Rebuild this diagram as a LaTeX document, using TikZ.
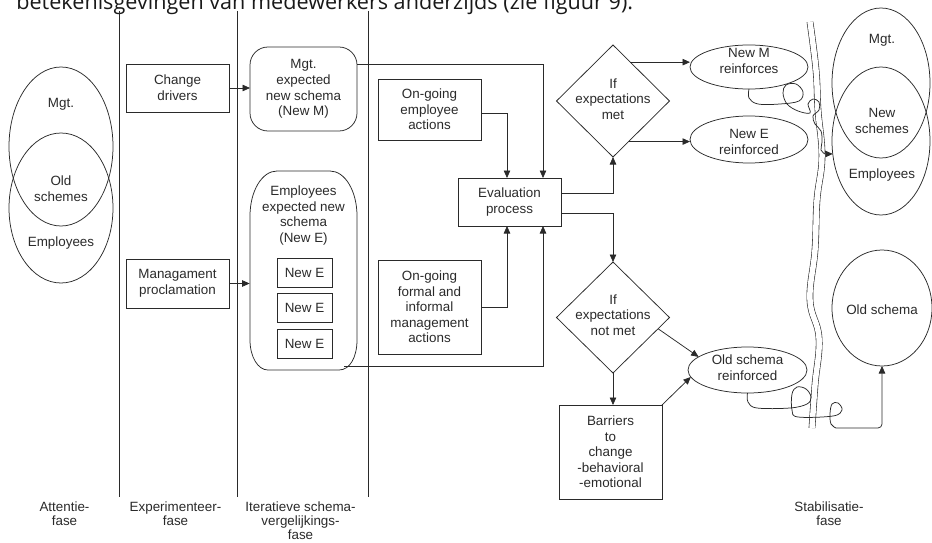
\documentclass[tikz,border=0pt]{standalone}
\usepackage{fontspec}
\setmainfont{Liberation Sans}
\newfontfamily\headfont{Open Sans}
\usetikzlibrary{shapes.geometric,arrows.meta}
\definecolor{ink}{HTML}{2A2A2A}
\newcommand\boxfont{\fontsize{13.4pt}{15.6pt}\selectfont}
\newcommand\phasefont{\fontsize{13.4pt}{14pt}\selectfont}
\begin{document}
\begin{tikzpicture}[x=1pt,y=-1pt,
  line width=0.75pt, draw=ink,
  shp/.style={draw=ink, line width=0.75pt, inner sep=0pt, outer sep=0pt},
  box/.style={shp, rectangle, align=center, text=ink, font=\boxfont},
  txt/.style={inner sep=0pt, align=center, text=ink, font=\boxfont},
  phase/.style={inner sep=0pt, align=center, text=ink, font=\phasefont, anchor=base},
  arr/.style={draw=ink, line width=0.75pt, -{Triangle[length=7.5pt,width=6.5pt]}},
  wire/.style={draw=ink, line width=0.75pt}
]
\clip (0,0) rectangle (932,543);

% running text line above the figure
\node[anchor=base west, inner sep=0pt, text=black!90,
      font=\headfont\fontsize{21.6pt}{25pt}\selectfont] (intro) at (16,10)
  {betekenisgevingen van medewerkers anderzijds (zie figuur 9).};

% phase separators
\draw[wire] (119,11) -- (119,497);
\draw[wire] (237,11) -- (237,497);
\draw[wire] (368,11) -- (368,497);

% phase labels (anchored on the baseline of their last line)
\node[phase] (f1) at (64.5,525) {Attentie-\\fase};
\node[phase] (f2) at (175.5,525) {Experimenteer-\\fase};
\node[phase] (f3) at (300.5,539) {Iteratieve schema-\\vergelijkings-\\fase};
\node[phase] (f4) at (829,525) {Stabilisatie-\\fase};

% starting situation: overlapping schemes
\node[shp, ellipse, minimum width=104pt, minimum height=159pt] (lmgt) at (61,146.5) {};
\node[shp, ellipse, minimum width=104pt, minimum height=150pt] (lemp) at (61,208) {};
\node[txt] (lmgt-t) at (61,104) {Mgt.};
\node[txt] (lold-t) at (61,188.5) {Old\\schemes};
\node[txt] (lemp-t) at (61,243.5) {Employees};

% experimenting phase
\node[box, minimum width=103pt, minimum height=48pt] (cd) at (177.5,88) {Change\\drivers};
\node[box, minimum width=103pt, minimum height=49pt] (mp) at (177.5,283.5) {Managament\\proclamation};

% expected schemas
\node[box, rounded corners=18pt, minimum width=107pt, minimum height=84pt] (mgt) at (303.5,89)
  {Mgt.\\expected\\new schema\\(New M)};
\node[inner sep=0pt, minimum width=107pt, minimum height=199pt] (emp) at (303.5,270.5) {};
\draw[wire] (250,216) .. controls (250,191) and (262,171) .. (277,171)
  -- (330,171) .. controls (345,171) and (357,191) .. (357,216)
  -- (357,340) .. controls (357,357) and (350,370) .. (339,370)
  -- (268,370) .. controls (258,370) and (250,357) .. (250,340) -- cycle;
\node[txt] (emp-t) at (303.5,215.5) {Employees\\expected new\\schema\\(New E)};
\node[box, minimum width=55pt, minimum height=29pt] (ne1) at (304.5,272.5) {New E};
\node[box, minimum width=55pt, minimum height=29pt] (ne2) at (304.5,307.5) {New E};
\node[box, minimum width=55pt, minimum height=29pt] (ne3) at (304.5,343.5) {New E};
\coordinate (empout) at (344,366);

% comparison phase
\node[box, minimum width=103pt, minimum height=61pt] (oge) at (429.5,109.5) {On-going\\employee\\actions};
\node[box, minimum width=103pt, minimum height=48pt] (ev) at (509.5,202) {Evaluation\\process};
\node[box, minimum width=103pt, minimum height=94pt] (ogm) at (429.5,307)
  {On-going\\formal and\\informal\\management\\actions};

\node[shp, diamond, minimum width=113pt, minimum height=112pt] (d1) at (613,101) {};
\node[txt] (d1-t) at (613,99) {If\\expectations\\met};
\node[shp, diamond, minimum width=113pt, minimum height=111pt] (d2) at (613,317.5) {};
\node[txt] (d2-t) at (613,315) {If\\expectations\\not met};

\node[shp, ellipse, minimum width=118pt, minimum height=44pt] (nm) at (749,67) {};
\node[txt] (nm-t) at (749,61) {New M\\reinforces};
\node[shp, ellipse, minimum width=118pt, minimum height=47pt] (nE) at (749,139.5) {};
\node[txt] (nE-t) at (749,142) {New E\\reinforced};
\node[shp, ellipse, minimum width=119pt, minimum height=46pt] (osr) at (747.5,370) {};
\node[txt] (osr-t) at (747.5,367.5) {Old schema\\reinforced};

\node[box, minimum width=103pt, minimum height=94pt] (bar) at (610.5,452)
  {Barriers\\to\\change\\-behavioral\\-emotional};

% stabilisation phase
\node[shp, ellipse, minimum width=98pt, minimum height=150pt] (rmgt) at (881,83) {};
\node[shp, ellipse, minimum width=98pt, minimum height=148pt] (remp) at (881,141) {};
\node[txt] (rmgt-t) at (882,40) {Mgt.};
\node[txt] (rnew-t) at (882,121) {New\\schemes};
\node[txt] (remp-t) at (882,175.5) {Employees};
\node[shp, ellipse, minimum width=100pt, minimum height=116pt] (osch) at (882,308) {};
\node[txt] (osch-t) at (882,310) {Old schema};

% the river between comparison and stabilisation
\draw[draw=ink, line width=0.6pt, double=white, double distance=5.5pt]
  plot[smooth, tension=0.7] coordinates {(810,22) (816,70) (818,110) (822,157) (817,200)
    (815,250) (810,300) (819,338) (815,385) (812,428)};

% connectors
\draw[arr] (cd.east) -- (cd.east -| mgt.west);
\draw[arr] (mp.east) -- (mp.east -| emp.west);
\draw[arr] ([yshift=25pt]mgt.east) -| ([xshift=33.5pt]ev.north);
\draw[arr] ([yshift=-3.5pt]oge.east) -| ([xshift=-2.5pt]ev.north);
\draw[arr] (ogm.east) -| ([xshift=-2.5pt]ev.south);
\draw[arr] (empout) -| ([xshift=33.5pt]ev.south);
\draw[arr] ([yshift=9pt]ev.east) -| (d1.south);
\draw[arr] ([yshift=-11pt]ev.east) -| (d2.north);
\draw[arr] (d1.66) -- (d1.66 -| nm.west);
\draw[arr] (d1.291) -- (d1.291 -| nE.west);
\draw[arr] (d2.south) -- (d2.south |- bar.north);
\draw[arr] (d2.346) -- (osr.165);
\draw[arr] (bar.north east) -- (osr.187);

% looping routes across the river
\draw[arr] plot[smooth, tension=0.6] coordinates {(nm.south) (749,98) (758,104) (780,104)
    (799,101) (803,92) (796,84) (786,85) (783,93) (787,104) (798,111) (810,113) (808,104)
    (813,99) (819,102) (819,110) (813,116) (815,124) (821,131) (822,142) (821,150) (825,154)}
  -- (remp.195);
\draw[arr] plot[smooth, tension=0.6] coordinates {(osr.south) (748,402) (757,408) (790,408)
    (807,404) (811,397) (806,389) (797,387) (792,394) (792,410) (798,417) (833,416)
    (842,410) (838,403) (832,404) (830,414) (831,424) (836,428)}
  [rounded corners=4pt] -- (osch.south |- 0,428) -- (osch.south);
\end{tikzpicture}
\end{document}
